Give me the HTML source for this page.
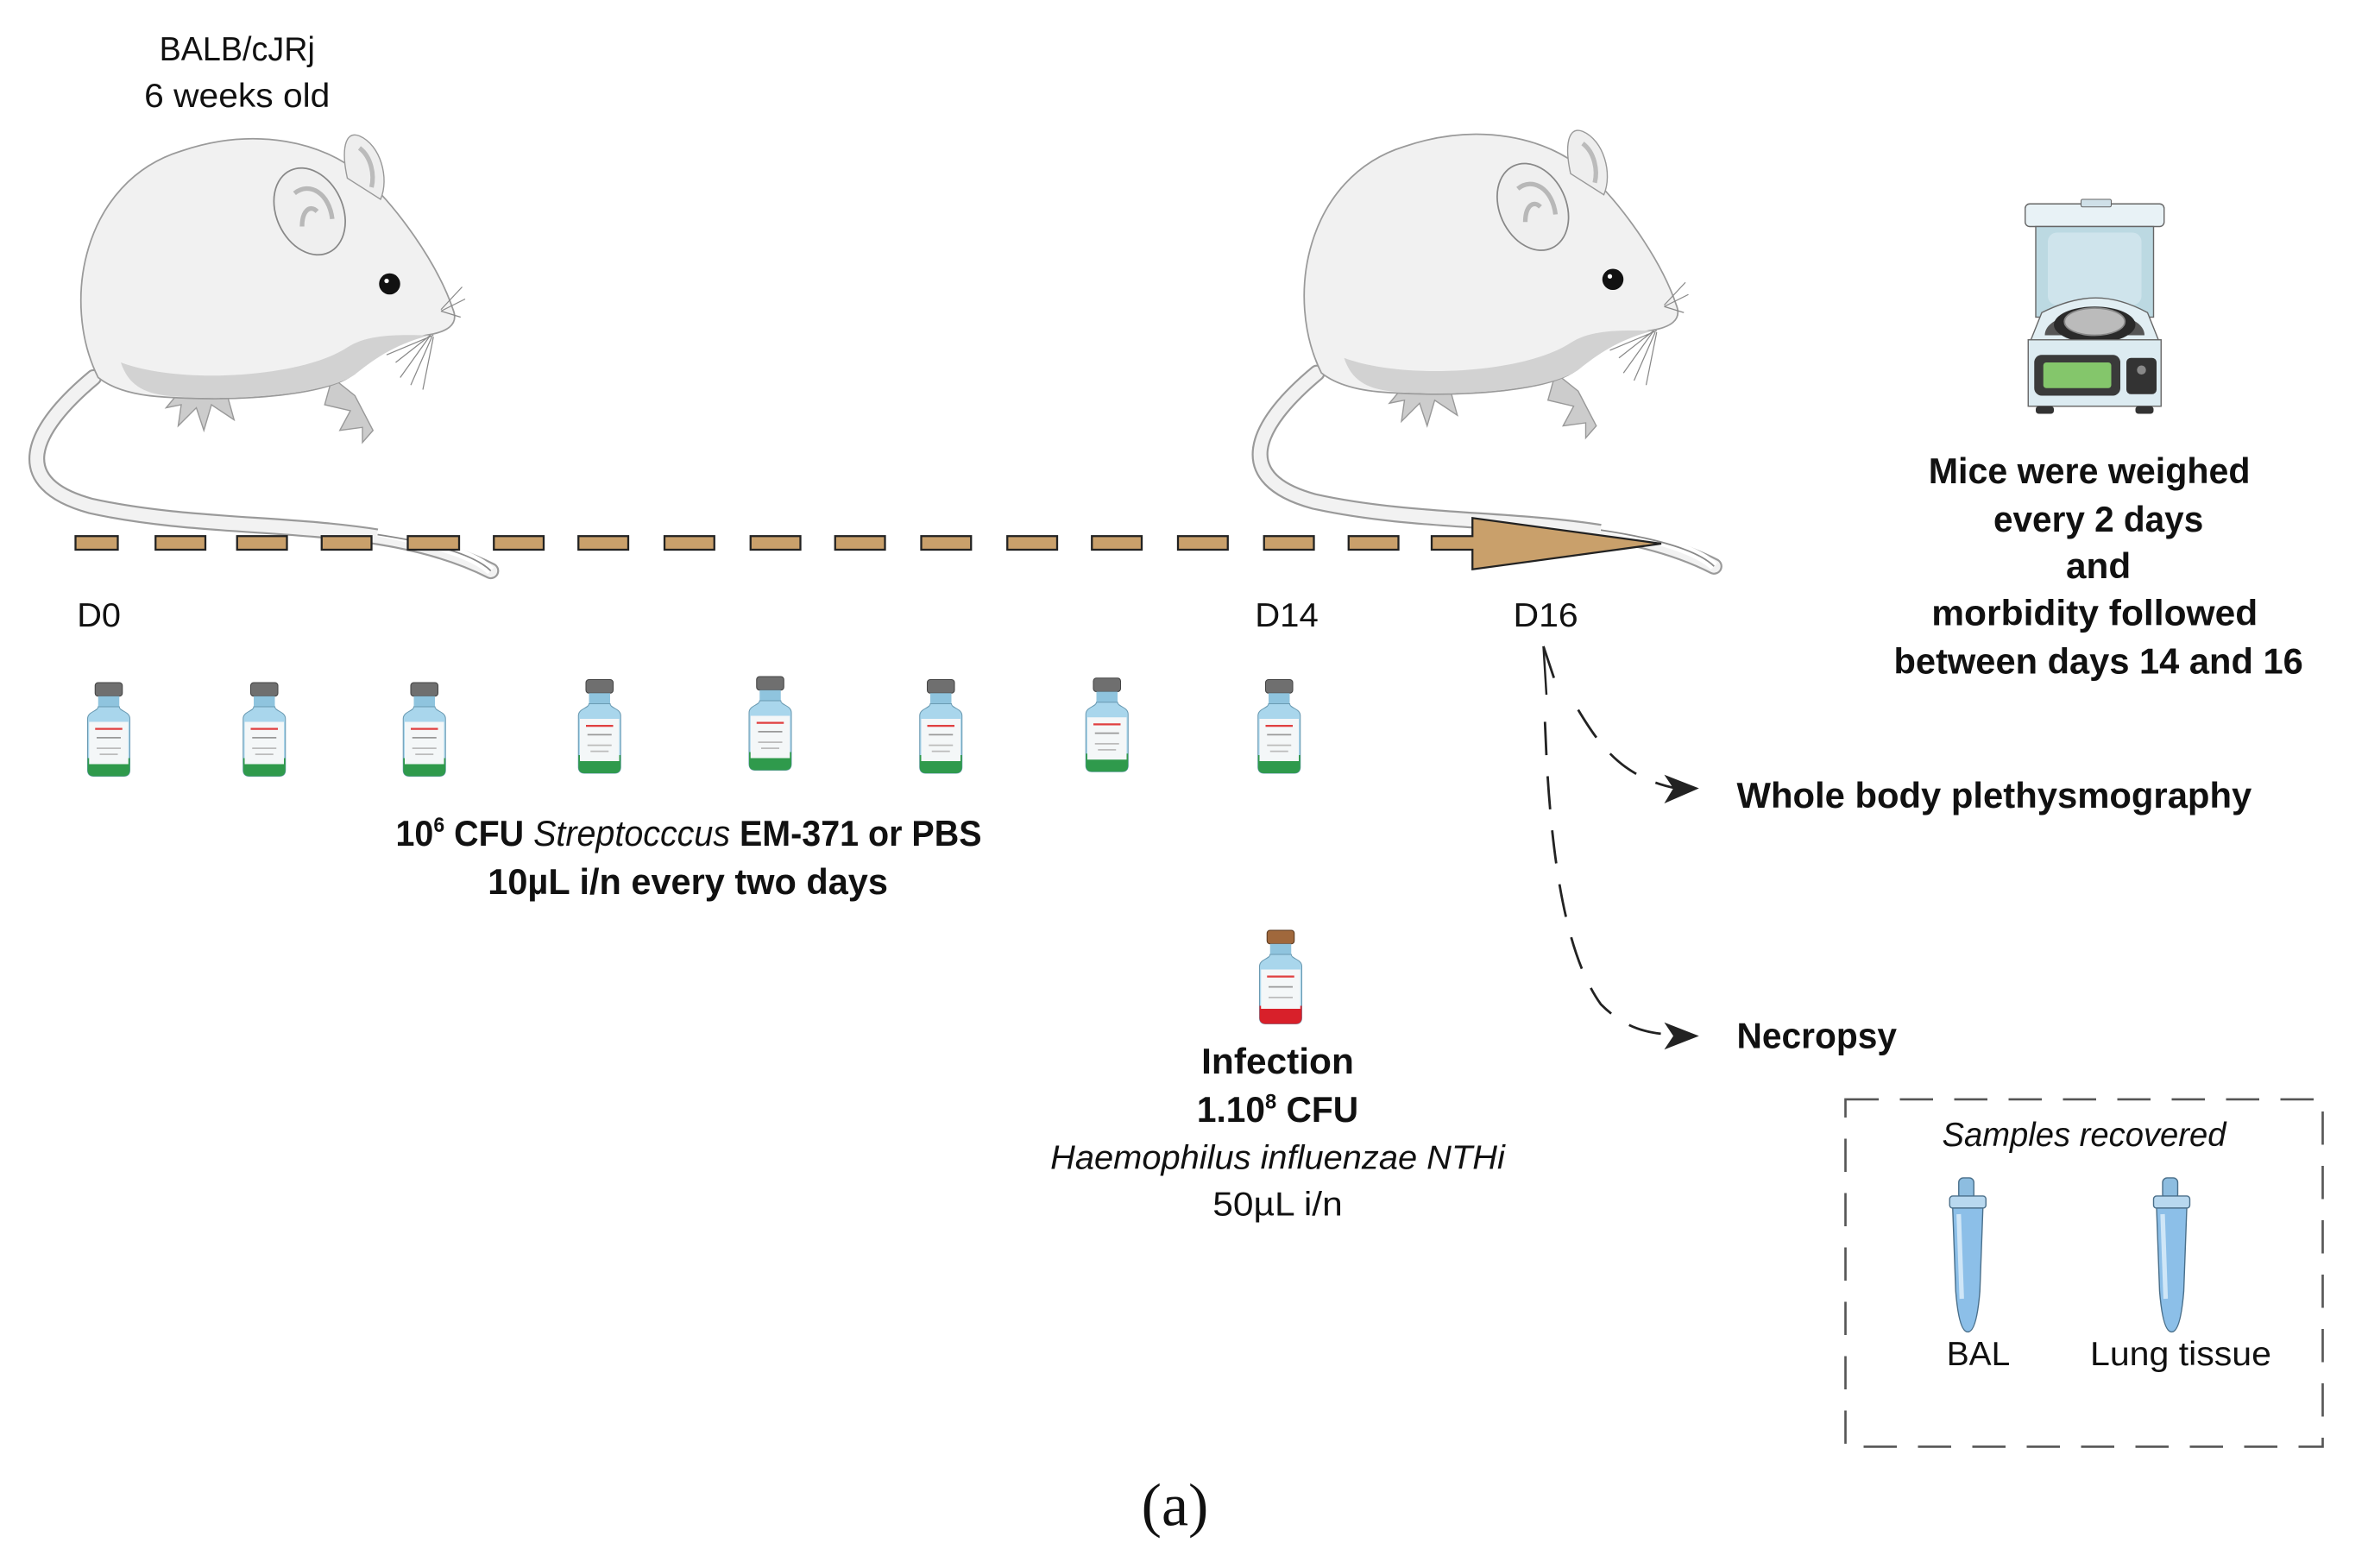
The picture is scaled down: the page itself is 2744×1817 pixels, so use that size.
<!DOCTYPE html>
<html><head><meta charset="utf-8"><style>
html,body{margin:0;padding:0;background:#fff;}
svg{display:block;}
.t{font-family:"Liberation Sans",sans-serif;fill:#111;}
.b{font-family:"Liberation Sans Narrow","Liberation Sans",sans-serif;font-weight:bold;fill:#111;}
</style></head><body>
<svg width="2744" height="1817" viewBox="0 0 1568 1038.3" preserveAspectRatio="none" xmlns="http://www.w3.org/2000/svg">
<defs>
<g id="mouse">
  <path d="M62,250 C20,285 5,320 60,335 C150,355 250,340 325,378" fill="none" stroke="#9a9a9a" stroke-width="11" stroke-linecap="round"/>
  <path d="M62,250 C20,285 5,320 60,335 C150,355 250,340 325,378" fill="none" stroke="#f2f2f2" stroke-width="8.5" stroke-linecap="round"/>
  <path d="M250,352 C290,360 315,368 325,378" fill="none" stroke="#fff" stroke-width="6"/>
  <path d="M250,354 C290,360 315,368 325,378" fill="none" stroke="#888" stroke-width="1"/>
  <path d="M120,258 L110,270 L120,268 L118,282 L130,270 L135,285 L140,268 L155,278 L150,260 Z" fill="#ccc" stroke="#999" stroke-width="0.8"/>
  <path d="M220,250 L215,268 L232,272 L225,285 L240,283 L240,293 L247,285 L235,262 Z" fill="#ccc" stroke="#999" stroke-width="0.8"/>
  <path d="M65,250 C40,200 55,120 120,100 C170,83 215,95 238,115 C262,135 290,175 300,205 C304,215 296,220 282,222 C262,226 246,235 236,246 C220,262 160,266 110,263 C90,262 75,258 65,250 Z" fill="#f1f1f1" stroke="#9a9a9a" stroke-width="1"/>
  <path d="M80,240 C120,255 200,250 230,230 C245,220 270,222 285,222 C260,228 245,240 235,248 C215,262 150,266 110,262 C95,260 85,255 80,240 Z" fill="#d2d2d2"/>
  <path d="M230,118 C226,100 228,86 238,90 C252,96 258,118 252,132 Z" fill="#eee" stroke="#999" stroke-width="0.8"/>
  <path d="M238,98 C246,104 248,116 246,124" stroke="#bbb" stroke-width="3" fill="none"/>
  <ellipse cx="205" cy="140" rx="22" ry="30" transform="rotate(-25 205 140)" fill="#efefef" stroke="#888" stroke-width="1"/>
  <path d="M195,128 C205,120 218,128 220,145 M200,150 C200,140 205,135 210,140" stroke="#b8b8b8" stroke-width="3" fill="none"/>
  <circle cx="258" cy="188" r="7" fill="#111"/>
  <circle cx="256" cy="186" r="1.5" fill="#fff"/>
  <path d="M285,222 L262,240 M285,222 L265,250 M286,223 L272,255 M287,223 L280,258 M287,222 L256,235 M292,205 L306,190 M292,206 L308,198 M292,206 L305,210" stroke="#888" stroke-width="0.7" fill="none"/>
</g>
<g id="vial">
  <rect x="-9" y="0" width="18" height="9" rx="2" fill="#6f6f6f" stroke="#444" stroke-width="0.6"/>
  <rect x="-7" y="9" width="14" height="7" fill="#8fc4de"/>
  <path d="M-7,16 C-7,19 -14,19 -14,24 L-14,58 C-14,61 -12,62 -10,62 L10,62 C12,62 14,61 14,58 L14,24 C14,19 7,19 7,16 Z" fill="#a9d6ec" stroke="#6a9ab2" stroke-width="0.6"/>
  <path d="M-14,50 L14,50 L14,58 C14,61 12,62 10,62 L-10,62 C-12,62 -14,61 -14,58 Z" fill="#2f9a4c"/>
  <rect x="-13" y="26" width="26" height="28" fill="#f4f7f8"/>
  <rect x="-9" y="30" width="18" height="1.3" fill="#e04040"/>
  <rect x="-8" y="36" width="16" height="1" fill="#999"/>
  <rect x="-8" y="43" width="16" height="1" fill="#bbb"/>
  <rect x="-6" y="47" width="12" height="1" fill="#bbb"/>
</g>
<g id="tube">
  <rect x="-6" y="0" width="10" height="14" rx="3" fill="#8dbde0" stroke="#4a6f8a" stroke-width="0.8"/>
  <rect x="-12" y="12" width="24" height="8" rx="2" fill="#b8d8ef" stroke="#4a6f8a" stroke-width="0.8"/>
  <path d="M-10,20 L10,20 L8,75 C6,100 2,102 0,102 C-2,102 -6,100 -8,75 Z" fill="#8cbfe8" stroke="#4a6f8a" stroke-width="0.8"/>
  <path d="M-6,24 L-4,80" stroke="#cfe6f7" stroke-width="3"/>
</g>
</defs>

<text class="t" x="157" y="40" font-size="22" text-anchor="middle" textLength="103" lengthAdjust="spacingAndGlyphs">BALB/cJRj</text>
<text class="t" x="157" y="71" font-size="22" text-anchor="middle" textLength="123" lengthAdjust="spacingAndGlyphs">6 weeks old</text>

<use href="#mouse"/>
<use href="#mouse" transform="translate(810,-3)"/>

<g fill="#c9a06b" stroke="#222" stroke-width="1.3">
  <rect x="50" y="355" width="28" height="9"/>
  <rect x="103" y="355" width="33" height="9"/>
  <rect x="157" y="355" width="33" height="9"/>
  <rect x="213" y="355" width="33" height="9"/>
  <rect x="270" y="355" width="34" height="9"/>
  <rect x="327" y="355" width="33" height="9"/>
  <rect x="383" y="355" width="33" height="9"/>
  <rect x="440" y="355" width="33" height="9"/>
  <rect x="497" y="355" width="33" height="9"/>
  <rect x="553" y="355" width="33" height="9"/>
  <rect x="610" y="355" width="33" height="9"/>
  <rect x="667" y="355" width="33" height="9"/>
  <rect x="723" y="355" width="33" height="9"/>
  <rect x="780" y="355" width="33" height="9"/>
  <rect x="837" y="355" width="33" height="9"/>
  <rect x="893" y="355" width="33" height="9"/>
  <path d="M948,355 L975,355 L975,343 L1100,360 L975,377 L975,364 L948,364 Z"/>
</g>

<text class="t" x="51" y="415" font-size="22" textLength="29" lengthAdjust="spacingAndGlyphs">D0</text>
<text class="t" x="831" y="415" font-size="22" textLength="42" lengthAdjust="spacingAndGlyphs">D14</text>
<text class="t" x="1002" y="415" font-size="22" textLength="43" lengthAdjust="spacingAndGlyphs">D16</text>

<use href="#vial" transform="translate(72,452)"/>
<use href="#vial" transform="translate(175,452)"/>
<use href="#vial" transform="translate(281,452)"/>
<use href="#vial" transform="translate(397,450)"/>
<use href="#vial" transform="translate(510,448)"/>
<use href="#vial" transform="translate(623,450)"/>
<use href="#vial" transform="translate(733,449)"/>
<use href="#vial" transform="translate(847,450)"/>

<text class="b" x="262" y="560" font-size="24" textLength="388" lengthAdjust="spacingAndGlyphs">10<tspan font-size="14" dy="-9">6</tspan><tspan dy="9"> CFU </tspan><tspan font-style="italic" font-weight="normal">Streptocccus</tspan> EM-371 or PBS</text>
<text class="b" x="323" y="592" font-size="24" textLength="265" lengthAdjust="spacingAndGlyphs">10µL i/n every two days</text>

<g transform="translate(848,616)">
  <rect x="-9" y="0" width="18" height="9" rx="2" fill="#a0683c" stroke="#5a3a20" stroke-width="0.6"/>
  <rect x="-7" y="9" width="14" height="7" fill="#8fc4de"/>
  <path d="M-7,16 C-7,19 -14,19 -14,24 L-14,58 C-14,61 -12,62 -10,62 L10,62 C12,62 14,61 14,58 L14,24 C14,19 7,19 7,16 Z" fill="#a9d6ec" stroke="#6a9ab2" stroke-width="0.6"/>
  <path d="M-14,50 L14,50 L14,58 C14,61 12,62 10,62 L-10,62 C-12,62 -14,61 -14,58 Z" fill="#d8202a"/>
  <rect x="-13" y="26" width="26" height="26" fill="#f4f7f8"/>
  <rect x="-9" y="30" width="18" height="1.3" fill="#e04040"/>
  <rect x="-8" y="37" width="16" height="1" fill="#999"/>
  <rect x="-8" y="44" width="16" height="1" fill="#bbb"/>
</g>

<text class="b" x="846" y="711" font-size="24" text-anchor="middle" textLength="101" lengthAdjust="spacingAndGlyphs">Infection</text>
<text class="b" x="846" y="743" font-size="24" text-anchor="middle" textLength="107" lengthAdjust="spacingAndGlyphs">1.10<tspan font-size="14" dy="-9">8</tspan><tspan dy="9"> CFU</tspan></text>
<text class="t" x="846" y="774" font-size="22" font-style="italic" text-anchor="middle" textLength="301" lengthAdjust="spacingAndGlyphs">Haemophilus influenzae NTHi</text>
<text class="t" x="846" y="805" font-size="22" text-anchor="middle" textLength="86" lengthAdjust="spacingAndGlyphs">50µL i/n</text>

<g transform="translate(1338,132)">
  <rect x="3" y="3" width="92" height="15" rx="3" fill="#e8f2f6" stroke="#666" stroke-width="0.8"/>
  <rect x="40" y="0" width="20" height="5" rx="1" fill="#cfe0e8" stroke="#666" stroke-width="0.6"/>
  <rect x="10" y="18" width="78" height="60" fill="#bcd9e2" stroke="#666" stroke-width="0.8"/>
  <rect x="18" y="22" width="62" height="48" rx="6" fill="#cfe4ec"/>
  <path d="M6,95 L14,75 C40,62 60,62 84,75 L92,95 Z" fill="#e1eef3" stroke="#666" stroke-width="0.8"/>
  <path d="M16,90 C16,70 82,70 82,90 Z" fill="#555"/>
  <ellipse cx="49" cy="83" rx="27" ry="12" fill="#2a2a2a"/>
  <ellipse cx="49" cy="81" rx="20" ry="9" fill="#bbb" stroke="#888"/>
  <rect x="5" y="93" width="88" height="44" fill="#dcebf1" stroke="#666" stroke-width="0.8"/>
  <rect x="9" y="103" width="57" height="27" rx="5" fill="#3a3a3a"/>
  <rect x="15" y="108" width="45" height="17" rx="2" fill="#84c66b"/>
  <rect x="70" y="105" width="20" height="24" rx="3" fill="#333"/>
  <circle cx="80" cy="113" r="3" fill="#888"/>
  <rect x="10" y="137" width="12" height="5" rx="2" fill="#333"/>
  <rect x="76" y="137" width="12" height="5" rx="2" fill="#333"/>
</g>

<text class="b" x="1277" y="320" font-size="24" textLength="213" lengthAdjust="spacingAndGlyphs">Mice were weighed</text>
<text class="b" x="1320" y="352" font-size="24" textLength="139" lengthAdjust="spacingAndGlyphs">every 2 days</text>
<text class="b" x="1368" y="383" font-size="24" textLength="43" lengthAdjust="spacingAndGlyphs">and</text>
<text class="b" x="1279" y="414" font-size="24" textLength="216" lengthAdjust="spacingAndGlyphs">morbidity followed</text>
<text class="b" x="1254" y="446" font-size="24" textLength="271" lengthAdjust="spacingAndGlyphs">between days 14 and 16</text>

<g fill="none" stroke="#222" stroke-width="1.6" stroke-dasharray="22,14">
  <path d="M1022,428 L1030,452 M1045,470 C1060,495 1075,515 1110,522"/>
  <path d="M1023,478 C1026,560 1035,630 1060,665 C1075,680 1090,685 1110,685"/>
</g>
<path d="M1125,522 L1102,513 L1108,522 L1102,532 Z" fill="#222"/>
<path d="M1125,686 L1102,677 L1108,686 L1102,695 Z" fill="#222"/>
<path d="M1022,428 L1024,460" stroke="#222" stroke-width="1.4"/>

<text class="b" x="1150" y="535" font-size="24" textLength="341" lengthAdjust="spacingAndGlyphs">Whole body plethysmography</text>
<text class="b" x="1150" y="694" font-size="24" textLength="106" lengthAdjust="spacingAndGlyphs">Necropsy</text>

<rect x="1222" y="728" width="316" height="230" fill="none" stroke="#555" stroke-width="1.5" stroke-dasharray="22,14"/>
<text class="t" x="1286" y="759" font-size="22" font-style="italic" textLength="188" lengthAdjust="spacingAndGlyphs">Samples recovered</text>
<use href="#tube" transform="translate(1303,780)"/>
<use href="#tube" transform="translate(1438,780)"/>
<text class="t" x="1289" y="904" font-size="22" textLength="42" lengthAdjust="spacingAndGlyphs">BAL</text>
<text class="t" x="1384" y="904" font-size="22" textLength="120" lengthAdjust="spacingAndGlyphs">Lung tissue</text>

<text x="778" y="1010" font-family="Liberation Serif, serif" font-size="40" fill="#111" text-anchor="middle">(a)</text>
</svg>
</body></html>
